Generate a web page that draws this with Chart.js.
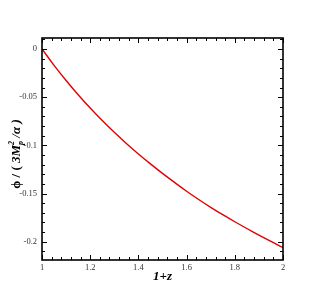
<!DOCTYPE html>
<html><head><meta charset="utf-8">
<script src="https://cdn.jsdelivr.net/npm/chart.js@4.4.1/dist/chart.umd.min.js"></script>
<style>html,body{margin:0;padding:0;background:#fff;}#wrap{width:322px;height:287px;position:relative;}</style>
</head><body><div id="wrap"><canvas id="c" width="322" height="287"></canvas></div>
<script>
const onePlusZ = [1.0,1.05,1.1,1.15,1.2,1.25,1.3,1.35,1.4,1.45,1.5,1.55,1.6,1.65,1.7,1.75,1.8,1.85,1.9,1.95,2.0];
const phiValues = [0,-0.017,-0.0327,-0.0475,-0.0613,-0.0743,-0.0865,-0.098,-0.1089,-0.1192,-0.1291,-0.1385,-0.1476,-0.1562,-0.1643,-0.172,-0.1793,-0.1863,-0.1931,-0.1997,-0.206];
const xTicks = [1,1.2,1.4,1.6,1.8,2];
const xTickLabels = ['1','1.2','1.4','1.6','1.8','2'];
const yTicks = [0,-0.05,-0.1,-0.15,-0.2];
const yTickLabels = ['0','-0.05','-0.1','-0.15','-0.2'];
const xMinor = 0.04, yMinor = 0.01;

const frame = {
  id:'frame',
  afterDraw(chart){
    const ctx = chart.ctx, a = chart.chartArea, xs = chart.scales.x, ys = chart.scales.y;
    ctx.save();
    ctx.strokeStyle = '#000'; ctx.lineWidth = 1;
    ctx.beginPath();
    const eps=1e-9;
    for(let v=xs.min; v<=xs.max+eps; v+=xMinor){
      const px = Math.round(xs.getPixelForValue(v))+0.5;
      const major = xTicks.some(t=>Math.abs(t-v)<1e-6);
      const L = major?5:3;
      ctx.moveTo(px,a.bottom); ctx.lineTo(px,a.bottom-L);
      ctx.moveTo(px,a.top); ctx.lineTo(px,a.top+L);
    }
    const start = Math.ceil(ys.min/yMinor-1e-6)*yMinor;
    for(let v=start; v<=ys.max+eps; v+=yMinor){
      const py = Math.round(ys.getPixelForValue(v))+0.5;
      const major = yTicks.some(t=>Math.abs(t-v)<1e-6);
      const L = major?5:3;
      ctx.moveTo(a.left,py); ctx.lineTo(a.left+L,py);
      ctx.moveTo(a.right,py); ctx.lineTo(a.right-L,py);
    }
    ctx.stroke();
    ctx.lineWidth = 1.6;
    ctx.strokeRect(a.left, a.top, a.right-a.left, a.bottom-a.top);
    // y axis title
    ctx.translate(17, 154);
    ctx.rotate(-Math.PI/2);
    ctx.fillStyle='#000'; ctx.textBaseline='middle'; ctx.textAlign='left';
    const big = 'bold 13px "Liberation Serif"', bigI='italic bold 13px "Liberation Serif"', small='italic bold 8px "Liberation Serif"';
    const parts = [
      {t:'ϕ / ( ', f:big, dy:0},
      {t:'3M', f:bigI, dy:0},
      {t:'2', f:small, dy:-5, noadv:true},
      {t:'p', f:small, dy:4},
      {t:' /α )', f:bigI, dy:0}
    ];
    let w=0; parts.forEach(p=>{ctx.font=p.f; p.w=ctx.measureText(p.t).width; if(!p.noadv) w+=p.w;});
    let x=-w/2;
    parts.forEach(p=>{ctx.font=p.f; ctx.fillText(p.t,x,p.dy); if(!p.noadv) x+=p.w;});
    ctx.restore();
    // x axis title
    ctx.save();
    ctx.fillStyle='#000'; ctx.font='italic bold 13px "Liberation Serif"'; ctx.textAlign='center'; ctx.textBaseline='middle';
    ctx.fillText('1+z', (a.left+a.right)/2, 277);
    ctx.restore();
  }
};

new Chart(document.getElementById('c'), {
  type:'line',
  data:{ datasets:[{ data: onePlusZ.map((x,i)=>({x, y:phiValues[i]})), borderColor:'#e00000', borderWidth:1.4, pointRadius:0, tension:0.4, fill:false }]},
  options:{
    responsive:false, animation:false, devicePixelRatio:1,
    layout:{padding:{top:38,right:39,left:0,bottom:0}},
    plugins:{legend:{display:false}, tooltip:{enabled:false}},
    scales:{
      x:{type:'linear', min:1, max:2,
        grid:{display:false, drawTicks:false}, border:{display:false},
        afterBuildTicks(s){ s.ticks = xTicks.map(v=>({value:v})); },
        afterFit(s){ s.height = 27; },
        ticks:{ padding:3, color:'#333', maxRotation:0, autoSkip:false, font:{family:'"Liberation Serif"', size:8.5},
          callback(v){ const i = xTicks.findIndex(t=>Math.abs(t-v)<1e-6); return i>=0?xTickLabels[i]:''; } }
      },
      y:{type:'linear', min:-0.219, max:0.0114,
        grid:{display:false, drawTicks:false}, border:{display:false},
        afterBuildTicks(s){ s.ticks = yTicks.map(v=>({value:v})); },
        afterFit(s){ s.width = 42; },
        ticks:{ padding:5, color:'#333', autoSkip:false, font:{family:'"Liberation Serif"', size:8.5},
          callback(v){ const i = yTicks.findIndex(t=>Math.abs(t-v)<1e-6); return i>=0?yTickLabels[i]:''; } }
      }
    }
  },
  plugins:[frame]
});
</script></body></html>
